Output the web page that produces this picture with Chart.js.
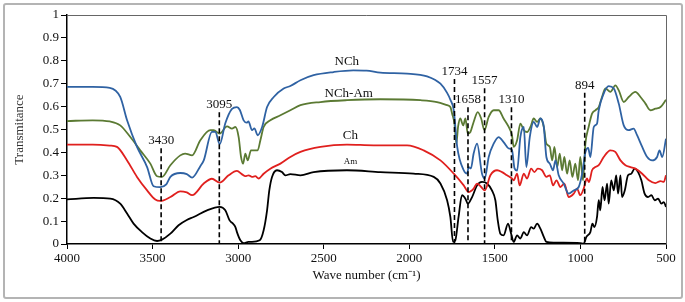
<!DOCTYPE html>
<html>
<head>
<meta charset="utf-8">
<script src="https://cdn.jsdelivr.net/npm/chart.js@4"></script>
<style>
  body { margin: 0; background: #fff; }
  #wrap { position: relative; width: 685px; height: 302px; }
  #frame { position: absolute; left: 3px; top: 3px; width: 676px; height: 292px; border: 2px solid #b4b4b4; border-radius: 3px; pointer-events: none; }
</style>
</head>
<body>
<div id="wrap">
  <canvas id="ftir"></canvas>
  <div id="frame"></div>
</div>
<script>
// NCh (blue)
const nchWave = [4000, 3850, 3750, 3689, 3649, 3591, 3532, 3494, 3455, 3420, 3396, 3338, 3300, 3269, 3221, 3201, 3153, 3133, 3108, 3075, 3036, 3007, 2990, 2968, 2950, 2940, 2919, 2905, 2886, 2860, 2831, 2792, 2734, 2695, 2636, 2559, 2442, 2327, 2250, 2169, 2013, 1896, 1818, 1779, 1760, 1740, 1720, 1682, 1662, 1653, 1640, 1624, 1604, 1575, 1559, 1536, 1507, 1478, 1449, 1419, 1400, 1385, 1370, 1351, 1331, 1316, 1296, 1273, 1253, 1234, 1214, 1199, 1179, 1160, 1146, 1127, 1098, 1069, 1039, 1010, 990, 971, 955, 942, 922, 903, 893, 864, 835, 805, 776, 747, 718, 689, 669, 639, 610, 581, 552, 538, 522, 500];
const nchT = [0.686, 0.686, 0.682, 0.642, 0.54, 0.424, 0.336, 0.252, 0.248, 0.26, 0.293, 0.31, 0.305, 0.29, 0.34, 0.365, 0.49, 0.49, 0.435, 0.527, 0.59, 0.598, 0.585, 0.54, 0.53, 0.535, 0.497, 0.505, 0.475, 0.511, 0.598, 0.642, 0.679, 0.69, 0.715, 0.737, 0.751, 0.758, 0.757, 0.748, 0.744, 0.732, 0.70, 0.66, 0.63, 0.584, 0.424, 0.322, 0.307, 0.336, 0.33, 0.395, 0.438, 0.307, 0.286, 0.38, 0.438, 0.467, 0.445, 0.417, 0.41, 0.33, 0.32, 0.467, 0.511, 0.336, 0.467, 0.533, 0.511, 0.548, 0.511, 0.38, 0.351, 0.322, 0.365, 0.30, 0.264, 0.22, 0.234, 0.249, 0.307, 0.40, 0.42, 0.38, 0.511, 0.526, 0.584, 0.657, 0.689, 0.679, 0.613, 0.518, 0.497, 0.504, 0.475, 0.424, 0.38, 0.365, 0.38, 0.409, 0.38, 0.46];

// NCh-Am (green)
const nchAmWave = [4000, 3850, 3750, 3689, 3630, 3572, 3513, 3474, 3445, 3396, 3338, 3310, 3269, 3221, 3162, 3143, 3108, 3065, 3036, 3016, 2997, 2983, 2971, 2958, 2944, 2925, 2886, 2870, 2851, 2812, 2753, 2695, 2636, 2519, 2364, 2169, 1935, 1838, 1779, 1760, 1750, 1736, 1725, 1715, 1702, 1685, 1672, 1658, 1643, 1624, 1600, 1580, 1561, 1536, 1507, 1478, 1449, 1419, 1400, 1390, 1370, 1351, 1331, 1312, 1292, 1273, 1253, 1234, 1214, 1199, 1179, 1165, 1152, 1136, 1121, 1107, 1094, 1078, 1063, 1047, 1030, 1014, 1001, 985, 971, 952, 932, 913, 893, 874, 854, 825, 796, 776, 747, 718, 679, 649, 620, 591, 562, 532, 500];
const nchAmT = [0.537, 0.54, 0.535, 0.518, 0.467, 0.409, 0.351, 0.296, 0.293, 0.344, 0.387, 0.395, 0.387, 0.453, 0.497, 0.497, 0.482, 0.514, 0.504, 0.511, 0.467, 0.38, 0.351, 0.395, 0.365, 0.409, 0.409, 0.453, 0.511, 0.54, 0.562, 0.584, 0.606, 0.62, 0.628, 0.632, 0.628, 0.62, 0.606, 0.598, 0.57, 0.526, 0.438, 0.511, 0.548, 0.518, 0.548, 0.482, 0.489, 0.533, 0.576, 0.548, 0.497, 0.555, 0.584, 0.584, 0.548, 0.511, 0.475, 0.424, 0.453, 0.526, 0.497, 0.489, 0.511, 0.548, 0.533, 0.548, 0.511, 0.438, 0.424, 0.365, 0.424, 0.336, 0.395, 0.322, 0.38, 0.307, 0.365, 0.293, 0.351, 0.278, 0.38, 0.278, 0.438, 0.511, 0.569, 0.584, 0.598, 0.642, 0.679, 0.664, 0.693, 0.671, 0.62, 0.642, 0.664, 0.642, 0.613, 0.584, 0.591, 0.598, 0.63];

// Ch (red)
const chWave = [4000, 3850, 3750, 3708, 3649, 3591, 3532, 3484, 3455, 3396, 3338, 3300, 3269, 3201, 3153, 3108, 3056, 3007, 2977, 2958, 2939, 2919, 2900, 2880, 2851, 2812, 2753, 2695, 2636, 2519, 2364, 2208, 2013, 1916, 1818, 1740, 1682, 1653, 1624, 1604, 1580, 1559, 1526, 1487, 1458, 1429, 1400, 1390, 1370, 1355, 1331, 1312, 1288, 1269, 1249, 1224, 1199, 1179, 1160, 1140, 1117, 1094, 1069, 1039, 1020, 1001, 981, 962, 950, 932, 913, 893, 864, 825, 796, 766, 737, 708, 679, 639, 600, 562, 532, 513, 500];
const chT = [0.434, 0.434, 0.43, 0.424, 0.365, 0.293, 0.234, 0.194, 0.188, 0.205, 0.23, 0.225, 0.213, 0.264, 0.285, 0.268, 0.30, 0.319, 0.304, 0.296, 0.30, 0.293, 0.296, 0.286, 0.307, 0.329, 0.351, 0.38, 0.402, 0.424, 0.434, 0.431, 0.431, 0.409, 0.365, 0.307, 0.256, 0.227, 0.242, 0.264, 0.249, 0.234, 0.30, 0.322, 0.314, 0.30, 0.286, 0.278, 0.307, 0.256, 0.307, 0.286, 0.329, 0.314, 0.329, 0.322, 0.293, 0.30, 0.256, 0.278, 0.249, 0.264, 0.205, 0.22, 0.242, 0.213, 0.242, 0.286, 0.27, 0.322, 0.336, 0.344, 0.38, 0.409, 0.402, 0.365, 0.344, 0.336, 0.329, 0.307, 0.278, 0.266, 0.275, 0.271, 0.30];

// Am (black)
const amWave = [4000, 3844, 3747, 3689, 3649, 3611, 3562, 3513, 3474, 3445, 3396, 3348, 3300, 3260, 3182, 3108, 3075, 3050, 3040, 3030, 3016, 3007, 2987, 2968, 2940, 2919, 2874, 2851, 2831, 2818, 2802, 2773, 2744, 2724, 2695, 2636, 2559, 2364, 2169, 1975, 1857, 1818, 1779, 1760, 1744, 1731, 1712, 1692, 1672, 1658, 1633, 1604, 1575, 1546, 1517, 1497, 1483, 1468, 1449, 1423, 1405, 1390, 1370, 1351, 1331, 1312, 1288, 1273, 1253, 1234, 1214, 1199, 1157, 1100, 1001, 981, 965, 942, 930, 918, 903, 893, 884, 871, 859, 844, 835, 820, 805, 791, 780, 766, 757, 741, 722, 703, 683, 663, 644, 625, 605, 585, 566, 546, 527, 513, 500];
const amT = [0.195, 0.201, 0.198, 0.176, 0.133, 0.089, 0.052, 0.024, 0.013, 0.019, 0.045, 0.082, 0.105, 0.118, 0.147, 0.162, 0.147, 0.103, 0.095, 0.089, 0.074, 0.052, 0.016, 0.004, 0.009, 0.009, 0.016, 0.06, 0.147, 0.234, 0.293, 0.322, 0.314, 0.30, 0.305, 0.30, 0.314, 0.322, 0.314, 0.307, 0.293, 0.264, 0.191, 0.118, 0.009, 0.016, 0.118, 0.213, 0.198, 0.176, 0.205, 0.256, 0.271, 0.264, 0.234, 0.191, 0.103, 0.045, 0.038, 0.089, 0.045, 0.009, 0.038, 0.024, 0.052, 0.038, 0.074, 0.067, 0.089, 0.067, 0.031, 0.009, 0.006, 0.006, 0.004, 0.002, 0.031, 0.052, 0.089, 0.074, 0.118, 0.191, 0.147, 0.249, 0.191, 0.264, 0.176, 0.278, 0.234, 0.30, 0.22, 0.30, 0.205, 0.234, 0.30, 0.307, 0.329, 0.314, 0.278, 0.22, 0.205, 0.213, 0.191, 0.198, 0.176, 0.183, 0.162];

// peak markers (dashed lines)
const markerLabels = ['3430', '3095', '1734', '1658', '1557', '1310', '894'];
const markerWave = [3450, 3110, 1736, 1657, 1560, 1403, 975];
const markerTop = [0.418, 0.575, 0.72, 0.597, 0.68, 0.597, 0.66];

// curve names written on the plot
const seriesNames = ['NCh', 'NCh-Am', 'Ch', 'Am'];
const nameWave = [2365, 2354, 2344, 2344];
const nameLevel = [0.795, 0.657, 0.475, 0.358];
const nameSize = [13, 13, 13, 9];

const serif = "'Liberation Serif', 'Times New Roman', serif";

function pts(w, t) {
  return w.map((x, i) => ({ x: x, y: t[i] }));
}

const annotations = {
  id: 'annotations',
  afterDatasetsDraw(chart) {
    const ctx = chart.ctx;
    const x = chart.scales.x;
    const y = chart.scales.y;
    const area = chart.chartArea;
    ctx.save();
    // top and right frame of plot area
    ctx.strokeStyle = '#666';
    ctx.lineWidth = 1;
    ctx.beginPath();
    ctx.moveTo(area.left, area.top + 0.5);
    ctx.lineTo(area.right + 0.5, area.top + 0.5);
    ctx.lineTo(area.right + 0.5, area.bottom);
    ctx.stroke();

    ctx.strokeStyle = '#000';
    ctx.fillStyle = '#111';
    ctx.lineWidth = 1.6;
    ctx.setLineDash([5, 3]);
    ctx.font = '13px ' + serif;
    ctx.textAlign = 'center';
    ctx.textBaseline = 'bottom';
    markerWave.forEach((w, i) => {
      const px = x.getPixelForValue(w);
      const top = y.getPixelForValue(markerTop[i]);
      ctx.beginPath();
      ctx.moveTo(px, top);
      ctx.lineTo(px, y.getPixelForValue(0));
      ctx.stroke();
      ctx.fillText(markerLabels[i], px, top - 1);
    });
    ctx.setLineDash([]);

    ctx.textBaseline = 'middle';
    seriesNames.forEach((name, i) => {
      ctx.font = nameSize[i] + 'px ' + serif;
      ctx.fillText(name, x.getPixelForValue(nameWave[i]), y.getPixelForValue(nameLevel[i]));
    });
    ctx.restore();
  }
};

const ctx = document.getElementById('ftir').getContext('2d');
new Chart(ctx, {
  type: 'line',
  data: {
    datasets: [
      { label: 'NCh', data: pts(nchWave, nchT), borderColor: '#2f62a3' },
      { label: 'NCh-Am', data: pts(nchAmWave, nchAmT), borderColor: '#5b7a33' },
      { label: 'Ch', data: pts(chWave, chT), borderColor: '#e0201e' },
      { label: 'Am', data: pts(amWave, amT), borderColor: '#000000' }
    ]
  },
  options: {
    responsive: true,
    maintainAspectRatio: false,
    animation: false,
    layout: { padding: { left: 0, top: 15, right: 19, bottom: 0 } },
    elements: {
      point: { radius: 0 },
      line: { borderWidth: 1.8, cubicInterpolationMode: 'monotone' }
    },
    plugins: {
      legend: { display: false },
      tooltip: { enabled: false }
    },
    scales: {
      x: {
        type: 'linear',
        reverse: true,
        min: 500,
        max: 4000,
        afterFit: s => { s.height = 58; },
        ticks: { stepSize: 500, color: '#111', font: { family: serif, size: 13 }, padding: 2, maxRotation: 0, callback: v => String(v) },
        grid: { drawOnChartArea: false, tickLength: 5, color: '#000' },
        border: { color: '#000', width: 1.5 },
        title: { display: true, text: 'Wave number (cm⁻¹)', color: '#111', font: { family: serif, size: 13 }, padding: { top: 0, bottom: 19 } }
      },
      y: {
        min: 0,
        max: 1,
        afterFit: s => { s.width = 67; },
        ticks: { stepSize: 0.1, color: '#111', font: { family: serif, size: 13 }, padding: 2, callback: v => String(Math.round(v * 10) / 10) },
        grid: { drawOnChartArea: false, tickLength: 6, color: '#000' },
        border: { color: '#000', width: 1.5 },
        title: { display: true, text: 'Transmitance', color: '#333', font: { family: serif, size: 13 }, padding: { top: 12, bottom: 0 } }
      }
    }
  },
  plugins: [annotations]
});
</script>
</body>
</html>
